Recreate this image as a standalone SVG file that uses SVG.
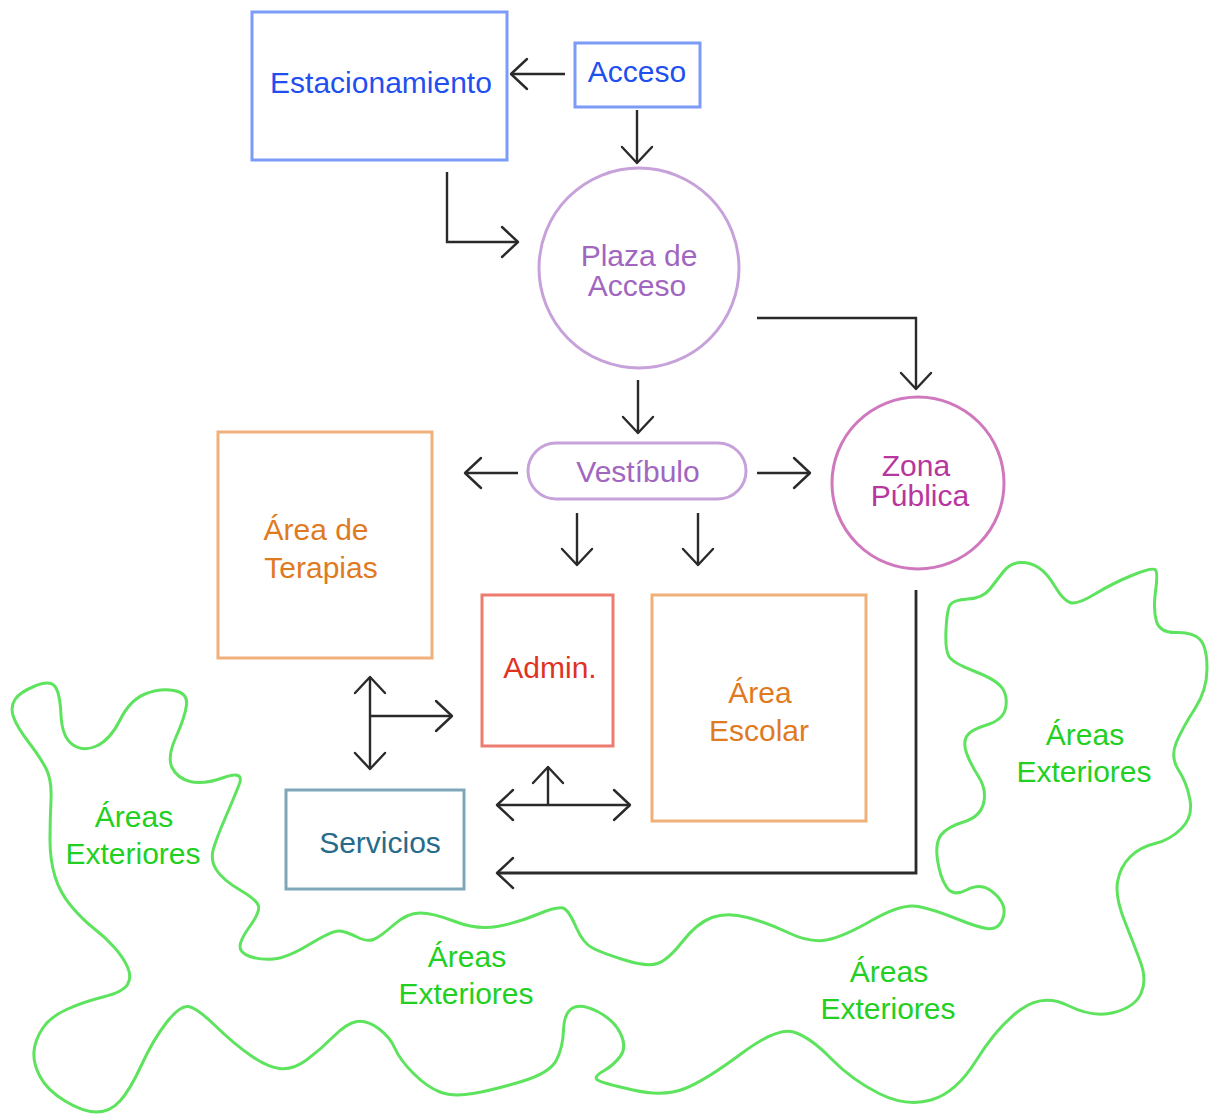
<svg xmlns="http://www.w3.org/2000/svg" width="1214" height="1115" viewBox="0 0 1214 1115">
  <style>
    text { font-family: "Liberation Sans", Arial, sans-serif; font-size: 30px; text-anchor: middle; }
    .box { fill: #ffffff; stroke-width: 3; }
    .blue rect { stroke: #7b9bf7; }
    .blue text { fill: #1f4fef; }
    .lilac circle, .lilac rect { stroke: #c7a2da; }
    .lilac text { fill: #a066c0; }
    .magenta circle { stroke: #cf78bd; }
    .magenta text { fill: #b8369e; }
    .orange rect { stroke: #f0b07a; }
    .orange text { fill: #e07a1f; }
    .red rect { stroke: #ee7b6f; }
    .red text { fill: #e0321e; }
    .steel rect { stroke: #7ea8ba; }
    .steel text { fill: #266b8a; }
    .outdoor path { fill: none; stroke: #5ee35e; stroke-width: 3; stroke-linejoin: round; }
    .outdoor text { fill: #22d022; }
    .link { fill: none; stroke: #2a2a2a; stroke-width: 2.4; marker-end: url(#arr); }
    .both { marker-start: url(#arr); }
  </style>
  <defs>
    <marker id="arr" viewBox="-20 -20 24 40" refX="0" refY="0" markerWidth="24" markerHeight="40" markerUnits="userSpaceOnUse" orient="auto-start-reverse">
      <path d="M-16,-15 L0,0 L-16,15" fill="none" stroke="#2a2a2a" stroke-width="2.4" stroke-linecap="round" stroke-linejoin="round"/>
    </marker>
  </defs>
  <rect width="1214" height="1115" fill="#ffffff"/>

  <!-- outdoor areas: one wavy outline around the built zones -->
  <g id="areas-exteriores" class="outdoor">
    <path d="M13.5,717 Q10,707 15,699.5 Q20,692 35,686 Q50,680 55,686.5 Q60,693 61,715 Q62,737 72.5,744.5 Q83,752 96.5,746 Q110,740 120,720 Q130,700 145,694 Q160,688 174,690.5 Q188,693 186.5,705 Q185,717 176,737 Q167,757 172,767.5 Q177,778 190,781.5 Q203,785 224,777.5 Q245,770 239,785 Q233,800 225,818.5 Q217,837 213.5,848.5 Q210,860 216.5,870 Q223,880 240,890 Q257,900 258.5,906 Q260,912 250,926 Q240,940 240,946.5 Q240,953 250,956.5 Q260,960 273.5,959 Q287,958 310,944 Q333,930 340,931 Q347,932 357,937 Q367,942 373.5,939.5 Q380,937 393.5,925 Q407,913 420,913 Q433,913 455,921.5 Q477,930 497,926.5 Q517,923 538.5,914 Q560,905 565,909 Q570,913 576.5,928 Q583,943 592.5,948 Q602,953 624.5,960 Q647,967 657.5,963.5 Q668,960 682.5,941.5 Q697,923 712,917.5 Q727,912 747.5,917.5 Q768,923 789,933 Q810,943 826.5,940 Q843,937 872.5,920 Q902,903 918.5,906.5 Q935,910 956,918.5 Q977,927 987,928.5 Q997,930 1001.5,921.5 Q1006,913 1003,905 Q1000,897 990,890 Q980,883 966.5,890 Q953,897 946.5,887 Q940,877 937.5,860 Q935,843 941,835 Q947,827 963.5,822 Q980,817 983.5,803.5 Q987,790 978.5,776.5 Q970,763 966.5,753 Q963,743 966.5,736.5 Q970,730 986.5,725 Q1003,720 1005.5,708.5 Q1008,697 1002.5,688.5 Q997,680 975,671.5 Q953,663 949,656.5 Q945,650 946,630 Q947,610 950,605 Q953,600 968,599 Q983,598 990,589 Q997,580 1003.5,571.5 Q1010,563 1020,562.5 Q1030,562 1038.5,567.5 Q1047,573 1055,586.5 Q1063,600 1070,602.5 Q1077,605 1095,594 Q1113,583 1133,575 Q1153,567 1155.5,570 Q1158,573 1155.5,591.5 Q1153,610 1156.5,621.5 Q1160,633 1176.5,632.5 Q1193,632 1200,639.5 Q1207,647 1207,668.5 Q1207,690 1195,708.5 Q1183,727 1176.5,742 Q1170,757 1178.5,770 Q1187,783 1190,800 Q1193,817 1181.5,828.5 Q1170,840 1155,843.5 Q1140,847 1130,857 Q1120,867 1117.5,882 Q1115,897 1125,922 Q1135,947 1141,963.5 Q1147,980 1141,993.5 Q1135,1007 1114,1012.5 Q1093,1018 1068,1005.5 Q1043,993 1020,1010 Q997,1027 976.5,1060 Q956,1093 931,1100 Q906,1107 879,1093.5 Q852,1080 831,1058.5 Q810,1037 793.5,1032 Q777,1027 741.5,1053.5 Q706,1080 685,1088.5 Q664,1097 633,1090 Q602,1083 597.5,1080 Q593,1077 603.5,1071 Q614,1065 620.5,1056 Q627,1047 620.5,1033.5 Q614,1020 597.5,1011.5 Q581,1003 572.5,1008 Q564,1013 563.5,1030 Q563,1047 556.5,1060 Q550,1073 521.5,1081.5 Q493,1090 473,1093.5 Q453,1097 440,1092 Q427,1087 413.5,1073.5 Q400,1060 395,1048.5 Q390,1037 378.5,1028.5 Q367,1020 357,1021.5 Q347,1023 333.5,1036.5 Q320,1050 306.5,1060 Q293,1070 280,1068.5 Q267,1067 250,1055 Q233,1043 215,1025.5 Q197,1008 188.5,1006.5 Q180,1005 166.5,1022.5 Q153,1040 141.5,1065 Q130,1090 120,1101 Q110,1112 96.5,1112 Q83,1112 65,1101 Q47,1090 40,1076.5 Q33,1063 34,1051.5 Q35,1040 42.5,1028.5 Q50,1017 66.5,1009.5 Q83,1002 103,997 Q123,992 127.5,984.5 Q132,977 127.5,967 Q123,957 114,947 Q105,937 94,928.5 Q83,920 71.5,906.5 Q60,893 55,876.5 Q50,860 50,840 Q50,820 51,800 Q52,780 46,768.5 Q40,757 28.5,742 Q17,727 13.5,717 Z"/>
    <text x="134" y="827">Áreas</text>
    <text x="133" y="864">Exteriores</text>
    <text x="467" y="967">Áreas</text>
    <text x="466" y="1004">Exteriores</text>
    <text x="889" y="982">Áreas</text>
    <text x="888" y="1019">Exteriores</text>
    <text x="1085" y="745">Áreas</text>
    <text x="1084" y="782">Exteriores</text>
  </g>

  <g id="estacionamiento" class="blue">
    <rect class="box" x="252" y="12" width="255" height="148"/>
    <text x="381" y="93">Estacionamiento</text>
  </g>

  <g id="acceso" class="blue">
    <rect class="box" x="575" y="43" width="125" height="64"/>
    <text x="637" y="82">Acceso</text>
  </g>

  <g id="plaza-de-acceso" class="lilac">
    <circle class="box" cx="639" cy="268" r="100"/>
    <text x="639" y="266">Plaza de</text>
    <text x="637" y="296">Acceso</text>
  </g>

  <g id="vestibulo" class="lilac">
    <rect class="box" x="528" y="443" width="218" height="56" rx="28" ry="28"/>
    <text x="638" y="482">Vestíbulo</text>
  </g>

  <g id="zona-publica" class="magenta">
    <circle class="box" cx="918" cy="483" r="86"/>
    <text x="916" y="476">Zona</text>
    <text x="920" y="506">Pública</text>
  </g>

  <g id="area-de-terapias" class="orange">
    <rect class="box" x="218" y="432" width="214" height="226"/>
    <text x="316" y="540">Área de</text>
    <text x="321" y="578">Terapias</text>
  </g>

  <g id="admin" class="red">
    <rect class="box" x="482" y="595" width="131" height="151"/>
    <text x="550" y="678">Admin.</text>
  </g>

  <g id="area-escolar" class="orange">
    <rect class="box" x="652" y="595" width="214" height="226"/>
    <text x="760" y="703">Área</text>
    <text x="759" y="741">Escolar</text>
  </g>

  <g id="servicios" class="steel">
    <rect class="box" x="286" y="790" width="178" height="99"/>
    <text x="380" y="853">Servicios</text>
  </g>

  <g id="connectors">
    <path class="link" d="M565,74 L511,74"/>
    <path class="link" d="M637,110 L637,163"/>
    <path class="link" d="M447,172 L447,242 L518,242"/>
    <path class="link" d="M638,380 L638,433"/>
    <path class="link" d="M757,318 L916,318 L916,389"/>
    <path class="link" d="M518,473 L465,473"/>
    <path class="link" d="M757,473 L810,473"/>
    <path class="link" d="M577,513 L577,565"/>
    <path class="link" d="M698,513 L698,565"/>
    <path class="link both" d="M370,677 L370,769"/>
    <path class="link" d="M370,716 L452,716"/>
    <path class="link both" d="M497,805 L630,805"/>
    <path class="link" d="M548,805 L548,767"/>
    <path class="link" d="M916,590 L916,873 L497,873" style="stroke-width:2.8"/>
  </g>
</svg>
